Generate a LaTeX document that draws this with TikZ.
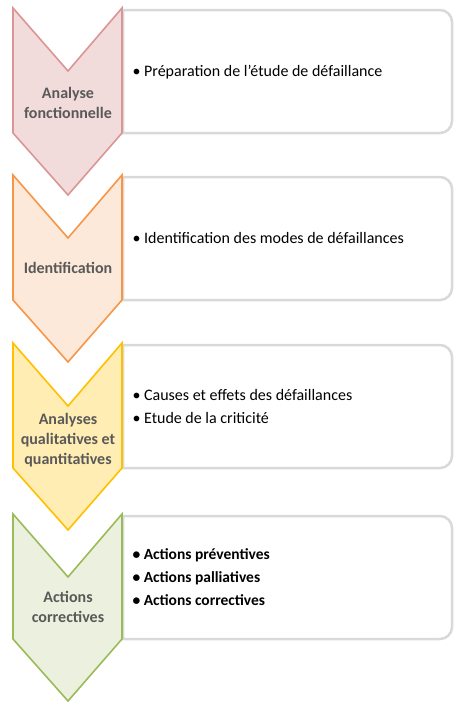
\documentclass[tikz,border=0pt]{standalone}
\usepackage{fontspec}
\setmainfont{Carlito}
\definecolor{lab}{HTML}{595959}
\definecolor{boxline}{HTML}{D9D9D9}
\definecolor{f1}{HTML}{F2DCDB}\definecolor{s1}{HTML}{D99694}
\definecolor{f2}{HTML}{FDE9D9}\definecolor{s2}{HTML}{F79646}
\definecolor{f3}{HTML}{FFEDB3}\definecolor{s3}{HTML}{FFC000}
\definecolor{f4}{HTML}{EBF1DE}\definecolor{s4}{HTML}{9BBB59}
\tikzset{
  infobox/.style={draw=boxline,line width=2.5pt,fill=white},
  chev/.style={line width=1.6pt,line join=miter},
  chevlabel/.style={font=\fontsize{16}{20}\selectfont\bfseries,text=lab,align=center},
  boxtext/.style={font=\fontsize{16}{23}\selectfont,text=black,align=left,anchor=west},
}
\newcommand{\stage}[3]{%
  % #1 top, #2 fill, #3 stroke
  \draw[infobox] (123,#1+2) -- (440,#1+2) arc[start angle=-90,end angle=0,radius=12] -- (452,#1+113) arc[start angle=0,end angle=90,radius=12] -- (123,#1+125) -- cycle;
  \draw[chev,fill=#2,draw=#3] (13,#1) -- (68,#1+63) -- (122,#1) -- (122,#1+125) -- (68,#1+187) -- (13,#1+125) -- cycle;
}
\begin{document}
\begin{tikzpicture}[x=1pt,y=-1pt]
\useasboundingbox (0,0) rectangle (454,702);
\stage{8}{f1}{s1}
\stage{175}{f2}{s2}
\stage{343}{f3}{s3}
\stage{514}{f4}{s4}
\node[chevlabel] (l1) at (68,103) {Analyse\\fonctionnelle};
\node[chevlabel] (l2) at (68,268) {Identification};
\node[chevlabel] (l3) at (68,440) {Analyses\\qualitatives et\\quantitatives};
\node[chevlabel] (l4) at (68,607) {Actions\\correctives};
\node[boxtext] (t1) at (129,72) {• Préparation de l’étude de défaillance};
\node[boxtext] (t2) at (129,238) {• Identification des modes de défaillances};
\node[boxtext] (t3) at (129,406) {• Causes et effets des défaillances\\• Etude de la criticité};
\node[boxtext,font=\fontsize{15.5}{23}\selectfont\bfseries] (t4) at (129,577) {• Actions préventives\\• Actions palliatives\\• Actions correctives};
\end{tikzpicture}
\end{document}
